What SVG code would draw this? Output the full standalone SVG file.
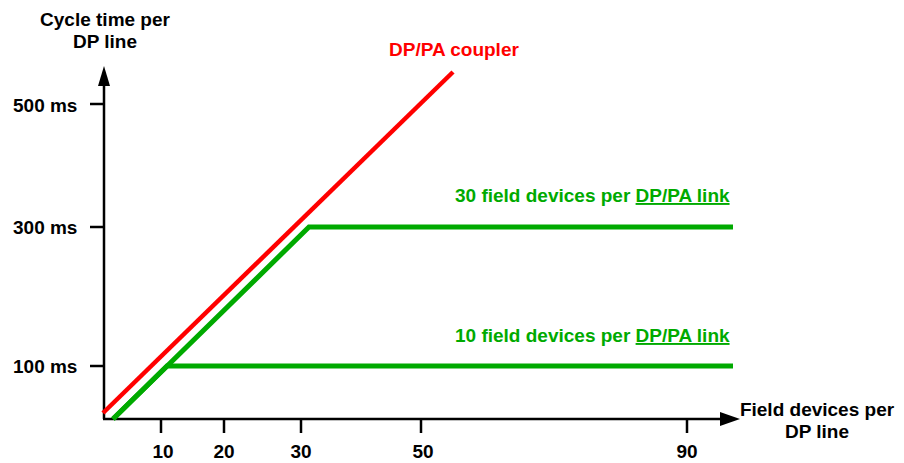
<svg xmlns="http://www.w3.org/2000/svg" width="904" height="463" viewBox="0 0 904 463">
<style>
text{font-family:"Liberation Sans",Arial,sans-serif;font-weight:bold;font-size:19px;fill:#000}
.g{fill:#00aa00}
.r{fill:#ff0000}
.ax{stroke:#000;stroke-width:2.5;fill:none}
.gl{stroke:#00aa00;stroke-width:5;fill:none}
.rl{stroke:#ff0000;stroke-width:4.5;fill:none}
</style>
<rect width="904" height="463" fill="#fff"/>
<g id="axes">
<line class="ax" x1="104" y1="419" x2="104" y2="82"/>
<polygon points="104,66 98,86 110,86" fill="#000"/>
<line class="ax" x1="103" y1="419" x2="722" y2="419"/>
<polygon points="740,419 720,412 720,426" fill="#000"/>
<line class="ax" x1="90" y1="104" x2="104" y2="104"/>
<line class="ax" x1="90" y1="227" x2="104" y2="227"/>
<line class="ax" x1="90" y1="366" x2="104" y2="366"/>
<line class="ax" x1="161" y1="419" x2="161" y2="433"/>
<line class="ax" x1="224" y1="419" x2="224" y2="433"/>
<line class="ax" x1="301" y1="419" x2="301" y2="433"/>
<line class="ax" x1="421" y1="419" x2="421" y2="433"/>
<line class="ax" x1="687" y1="419" x2="687" y2="433"/>
</g>
<g id="axis-labels">
<text x="105" y="26" text-anchor="middle">Cycle time per</text>
<text x="105" y="48" text-anchor="middle">DP line</text>
<text x="817" y="416" text-anchor="middle">Field devices per</text>
<text x="817" y="438" text-anchor="middle">DP line</text>
<text x="13" y="112">500 ms</text>
<text x="13" y="234">300 ms</text>
<text x="13" y="373">100 ms</text>
<text x="163" y="458" text-anchor="middle">10</text>
<text x="224" y="458" text-anchor="middle">20</text>
<text x="301" y="458" text-anchor="middle">30</text>
<text x="423" y="458" text-anchor="middle">50</text>
<text x="687" y="458" text-anchor="middle">90</text>
</g>
<g id="connectors">
<polyline class="gl" points="113,419 167,366 733,366"/>
<polyline class="gl" points="113,419 309,227 733,227"/>
<line class="rl" x1="103" y1="413" x2="453" y2="72"/>
</g>
<g id="coupler">
<text class="r" x="389" y="56">DP/PA coupler</text>
</g>
<g id="link30">
<text class="g" x="455" y="202">30 field devices per <tspan text-decoration="underline">DP/PA link</tspan></text>
</g>
<g id="link10">
<text class="g" x="455" y="342">10 field devices per <tspan text-decoration="underline">DP/PA link</tspan></text>
</g>
</svg>
